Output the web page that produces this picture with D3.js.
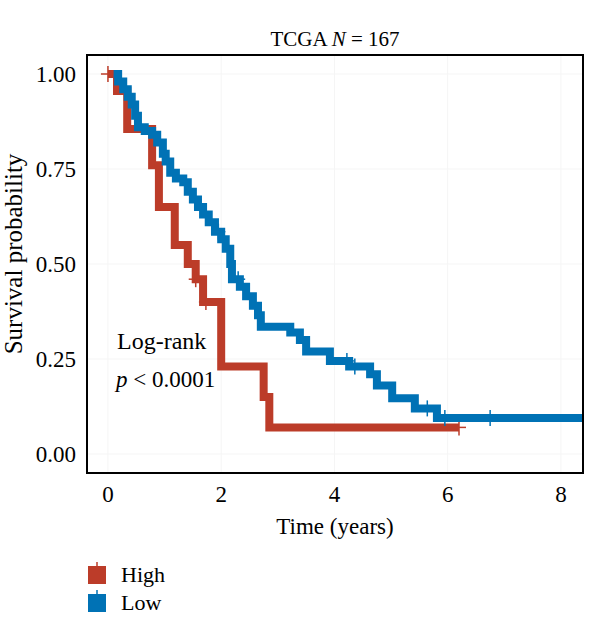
<!DOCTYPE html>
<html>
<head>
<meta charset="utf-8">
<script src="https://cdn.jsdelivr.net/npm/d3@7"></script>
<style>
  body { margin: 0; background: #fff; }
  svg { font-family: "Liberation Serif", "DejaVu Serif", serif; }
</style>
</head>
<body>
<svg width="600" height="617"></svg>
<script>
// High group: step times and survival after each step
const highTime = [0, 0.16, 0.34, 0.78, 0.90, 1.18, 1.41, 1.55, 1.68, 2.00, 2.75, 2.85, 6.20];
const highSurv = [1.00, 0.955, 0.855, 0.76, 0.65, 0.55, 0.50, 0.46, 0.40, 0.23, 0.15, 0.07, 0.07];
const highCensor = [0, 1.55, 1.73, 6.20];

// Low group
const lowTime = [0.10, 0.18, 0.27, 0.35, 0.42, 0.48, 0.53, 0.65, 0.78, 0.87, 0.97, 1.02, 1.10, 1.20,
  1.33, 1.41, 1.50, 1.59, 1.68, 1.78, 1.89, 2.00, 2.08, 2.16, 2.19, 2.33, 2.44, 2.56, 2.65, 2.70,
  3.22, 3.39, 3.50, 3.92, 4.26, 4.63, 4.75, 5.02, 5.42, 5.81, 8.60];
const lowSurv = [1.00, 0.98, 0.96, 0.94, 0.92, 0.89, 0.86, 0.85, 0.84, 0.82, 0.79, 0.77, 0.74, 0.725,
  0.715, 0.69, 0.67, 0.65, 0.63, 0.61, 0.585, 0.565, 0.54, 0.50, 0.46, 0.44, 0.415, 0.39, 0.365, 0.335,
  0.32, 0.30, 0.27, 0.245, 0.23, 0.21, 0.18, 0.147, 0.12, 0.095, 0.095];
const lowCensor = [1.95, 2.30, 4.22, 4.36, 5.64, 5.95, 6.75, 8.40];

const xTicks = [0, 2, 4, 6, 8];
const yTicks = [0, 0.25, 0.5, 0.75, 1];

const groups = [
  { name: "High", color: "#BC3C29", time: highTime, surv: highSurv, censor: highCensor },
  { name: "Low", color: "#0072B5", time: lowTime, surv: lowSurv, censor: lowCensor }
];

const svg = d3.select("svg");
const panel = { left: 87, top: 55, right: 583, bottom: 473 };

const x = d3.scaleLinear().domain([-0.37, 8.39]).range([panel.left, panel.right]);
const y = d3.scaleLinear().domain([-0.05, 1.05]).range([panel.bottom, panel.top]);

svg.append("defs").append("clipPath").attr("id", "clip")
  .append("rect")
  .attr("x", panel.left).attr("y", panel.top)
  .attr("width", panel.right - panel.left).attr("height", panel.bottom - panel.top);

// faint grid
const grid = svg.append("g");
grid.selectAll(".gx").data(xTicks).join("line")
  .attr("x1", d => x(d)).attr("x2", d => x(d))
  .attr("y1", panel.top).attr("y2", panel.bottom)
  .attr("stroke", "#f5f5f5").attr("stroke-width", 1);
grid.selectAll(".gy").data(yTicks).join("line")
  .attr("y1", d => y(d)).attr("y2", d => y(d))
  .attr("x1", panel.left).attr("x2", panel.right)
  .attr("stroke", "#f5f5f5").attr("stroke-width", 1);

const line = d3.line()
  .x(d => x(d[0]))
  .y(d => y(d[1]))
  .curve(d3.curveStepAfter);

// value of the step function at time t
function survAt(g, t) {
  let s = g.surv[0];
  for (let i = 0; i < g.time.length; i++) {
    if (g.time[i] <= t) s = g.surv[i];
  }
  return s;
}

const plot = svg.append("g").attr("clip-path", "url(#clip)");

groups.forEach(g => {
  const pts = g.time.map((t, i) => [t, g.surv[i]]);
  plot.append("path")
    .datum(pts)
    .attr("d", line)
    .attr("fill", "none")
    .attr("stroke", g.color)
    .attr("stroke-width", 8);

  plot.selectAll(null).data(g.censor).join("g")
    .attr("transform", d => `translate(${x(d)},${y(survAt(g, d))})`)
    .each(function () {
      const m = d3.select(this);
      m.append("line").attr("x1", 0).attr("x2", 0).attr("y1", -8).attr("y2", 8)
        .attr("stroke", g.color).attr("stroke-width", 1.5);
      m.append("line").attr("x1", -7).attr("x2", 7).attr("y1", 0).attr("y2", 0)
        .attr("stroke", g.color).attr("stroke-width", 1.5);
    });
});

// panel border
svg.append("rect")
  .attr("x", panel.left).attr("y", panel.top)
  .attr("width", panel.right - panel.left).attr("height", panel.bottom - panel.top)
  .attr("fill", "none").attr("stroke", "#000").attr("stroke-width", 2);

// axes labels
svg.selectAll(".xt").data(xTicks).join("text")
  .attr("x", d => x(d)).attr("y", 502)
  .attr("text-anchor", "middle").attr("font-size", 23)
  .text(d => d);

svg.selectAll(".yt").data(yTicks).join("text")
  .attr("x", 76).attr("y", d => y(d) + 8)
  .attr("text-anchor", "end").attr("font-size", 23)
  .text(d => d3.format(".2f")(d));

svg.append("text")
  .attr("x", (panel.left + panel.right) / 2).attr("y", 534)
  .attr("text-anchor", "middle").attr("font-size", 23)
  .text("Time (years)");

svg.append("text")
  .attr("transform", `translate(22,${(panel.top + panel.bottom) / 2 - 10}) rotate(-90)`)
  .attr("text-anchor", "middle").attr("font-size", 25)
  .text("Survival probability");

// title
const title = svg.append("text")
  .attr("x", (panel.left + panel.right) / 2).attr("y", 46)
  .attr("text-anchor", "middle").attr("font-size", 21);
title.append("tspan").text("TCGA ");
title.append("tspan").attr("font-style", "italic").text("N");
title.append("tspan").text(" = 167");

// log-rank annotation
svg.append("text")
  .attr("x", 117).attr("y", 349).attr("font-size", 24)
  .text("Log-rank");
const pText = svg.append("text")
  .attr("x", 116).attr("y", 387).attr("font-size", 23);
pText.append("tspan").attr("font-style", "italic").text("p");
pText.append("tspan").text(" < 0.0001");

// legend
const legend = svg.append("g");
groups.forEach((g, i) => {
  const ly = 575 + i * 28;
  legend.append("rect")
    .attr("x", 88).attr("y", ly - 9).attr("width", 18).attr("height", 18)
    .attr("fill", g.color);
  legend.append("line")
    .attr("x1", 97).attr("x2", 97).attr("y1", ly - 13).attr("y2", ly - 9)
    .attr("stroke", g.color).attr("stroke-width", 1.5);
  legend.append("text")
    .attr("x", 121).attr("y", ly + 7).attr("font-size", 22)
    .text(g.name);
});
</script>
</body>
</html>
